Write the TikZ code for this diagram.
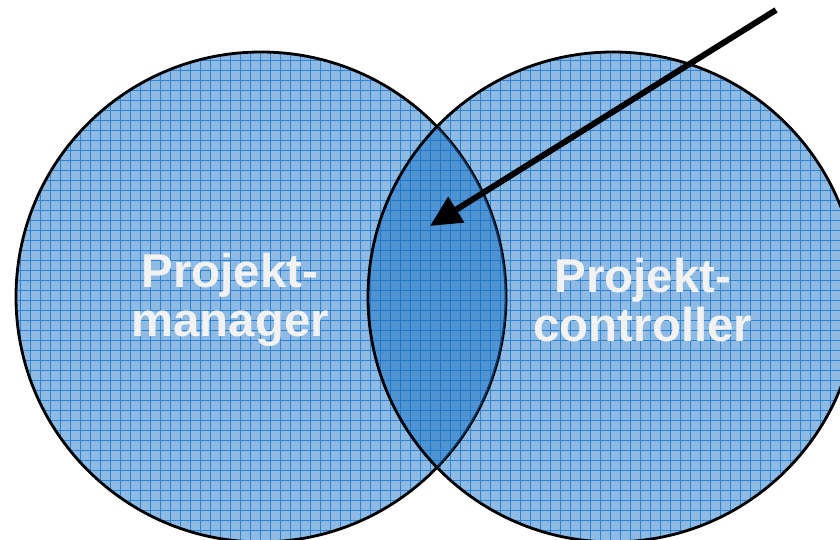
\documentclass[tikz,border=0pt]{standalone}
\usepackage{fontspec}
\setmainfont{Liberation Sans}
\usetikzlibrary{arrows.meta}

\definecolor{circfill}{RGB}{142,186,228}
\definecolor{gridblue}{RGB}{44,132,210}
\definecolor{overlapblue}{RGB}{20,110,196}
\definecolor{labelgray}{RGB}{242,242,242}

\tikzset{
	gridlines/.style={draw=gridblue, line width=0.4pt},
	ring/.style={draw=black, line width=1.6pt},
	label/.style={text=labelgray, align=center, font=\fontsize{27}{28}\selectfont\bfseries}
}

\begin{document}
\begin{tikzpicture}[x=0.02cm, y=-0.02cm]
	\useasboundingbox (0,0) rectangle (840,540);
	\coordinate (mcenter) at (261,297);
	\coordinate (ccenter) at (613,297);
	\def\rad{245}

	% circles with grid fill
	\foreach \c in {mcenter, ccenter} {
		\fill[circfill] (\c) circle (\rad);
		\begin{scope}
			\clip (\c) circle (\rad);
			\foreach \x in {0,10,...,840} \draw[gridlines] (\x,0) -- (\x,540);
			\foreach \y in {0,10,...,540} \draw[gridlines] (0,\y) -- (840,\y);
		\end{scope}
	}
	\draw[ring] (mcenter) circle (\rad);

	% overlap darker
	\begin{scope}
		\clip (mcenter) circle (\rad);
		\fill[overlapblue, opacity=0.5] (ccenter) circle (\rad);
	\end{scope}
	\draw[ring] (ccenter) circle (\rad);

	\node[label] (manager) at (230,300) {Projekt-\\manager};
	\node[label] (controller) at (643,300) {Projekt-\\controller};

	\coordinate (arrowstart) at (776,10);
	\coordinate (overlap) at (430,226);
	\draw[line width=3.4pt, -{Triangle[length=0.62cm, width=0.58cm]}] (arrowstart) -- (overlap);
\end{tikzpicture}
\end{document}
